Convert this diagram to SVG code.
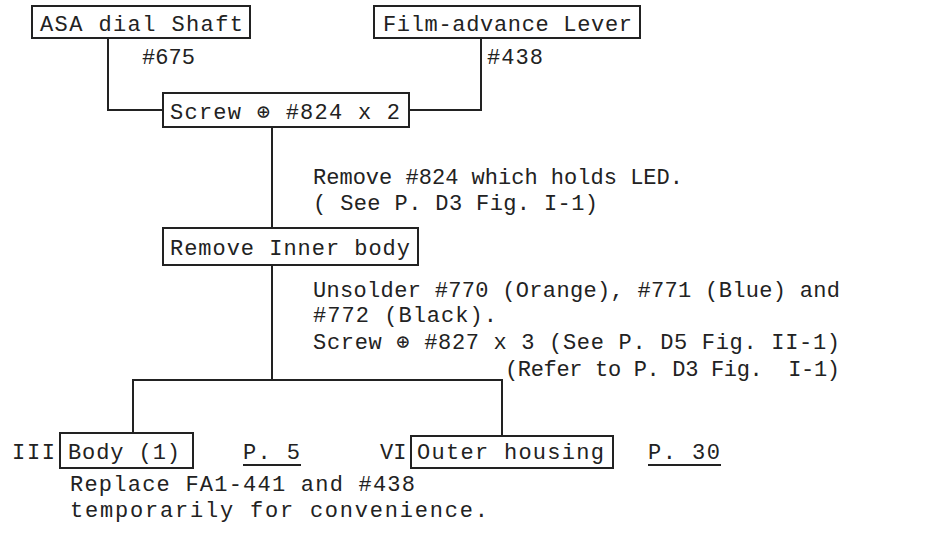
<svg xmlns="http://www.w3.org/2000/svg" width="940" height="534" viewBox="0 0 940 534">
<style>
text{font-family:"Liberation Mono","DejaVu Sans Mono",monospace;font-size:22px;fill:#222;white-space:pre}
.op{font-family:"DejaVu Sans Mono",monospace;font-size:22px}
.box{fill:#fff;stroke:#222;stroke-width:2}
.ln{fill:none;stroke:#222;stroke-width:2}
</style>
<rect width="940" height="534" fill="#fff"/>
<g id="connectors">
<polyline class="ln" points="108,38 108,110 163,110"/>
<polyline class="ln" points="481,38 481,110 409,110"/>
<line class="ln" x1="272" y1="127" x2="272" y2="228"/>
<line class="ln" x1="272" y1="265" x2="272" y2="380"/>
<polyline class="ln" points="133,433 133,380 502,380 502,436"/>
</g>
<g id="asa">
<rect class="box" x="32" y="6" width="218" height="32"/>
<text x="40" y="31" textLength="203" lengthAdjust="spacing">ASA dial Shaft</text>
<text x="142" y="64" textLength="53" lengthAdjust="spacing">#675</text>
</g>
<g id="film">
<rect class="box" x="374" y="6" width="266" height="32"/>
<text x="383" y="31" textLength="249" lengthAdjust="spacing">Film-advance Lever</text>
<text x="487" y="64" textLength="56" lengthAdjust="spacing">#438</text>
</g>
<g id="screw">
<rect class="box" x="163" y="93" width="246" height="34"/>
<text x="170" y="119" textLength="230" lengthAdjust="spacing">Screw <tspan class="op">⊕</tspan> #824 x 2</text>
</g>
<g id="note1">
<text x="313" y="184" textLength="370" lengthAdjust="spacing">Remove #824 which holds LED.</text>
<text x="313" y="210" textLength="285" lengthAdjust="spacing">( See P. D3 Fig. I-1)</text>
</g>
<g id="inner">
<rect class="box" x="163" y="228" width="255" height="37"/>
<text x="170" y="255" textLength="240" lengthAdjust="spacing">Remove Inner body</text>
</g>
<g id="note2">
<text x="313" y="297" textLength="527" lengthAdjust="spacing">Unsolder #770 (Orange), #771 (Blue) and</text>
<text x="313" y="322" textLength="184" lengthAdjust="spacing">#772 (Black).</text>
<text x="313" y="349" textLength="527" lengthAdjust="spacing">Screw <tspan class="op">⊕</tspan> #827 x 3 (See P. D5 Fig. II-1)</text>
<text x="505" y="376" textLength="335" lengthAdjust="spacing">(Refer to P. D3 Fig.&#160; I-1)</text>
</g>
<g id="body">
<text x="12" y="459" textLength="43" lengthAdjust="spacing">III</text>
<rect class="box" x="60" y="433" width="133" height="35"/>
<text x="68" y="459" textLength="112" lengthAdjust="spacing">Body (1)</text>
<text x="243" y="459" textLength="57" lengthAdjust="spacing">P. 5</text>
<line class="ln" x1="243" y1="465" x2="301" y2="465" stroke-width="1.5"/>
<text x="70" y="491" textLength="345" lengthAdjust="spacing">Replace FA1-441 and #438</text>
<text x="70" y="517" textLength="418" lengthAdjust="spacing">temporarily for convenience.</text>
</g>
<g id="outer">
<text x="380" y="459">VI</text>
<rect class="box" x="411" y="436" width="202" height="32"/>
<text x="417" y="459" textLength="187" lengthAdjust="spacing">Outer housing</text>
<text x="648" y="459" textLength="72" lengthAdjust="spacing">P. 30</text>
<line class="ln" x1="648" y1="465" x2="721" y2="465" stroke-width="1.5"/>
</g>
</svg>
